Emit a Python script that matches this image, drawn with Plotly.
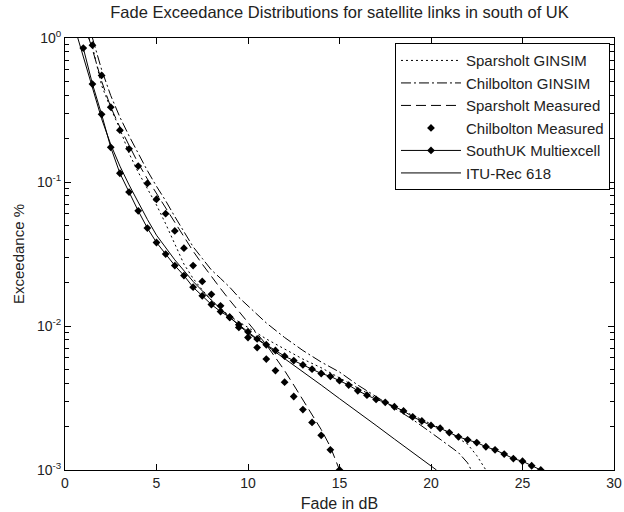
import plotly.graph_objects as go

# ---------------- data ----------------
sparsholt_ginsim_x = [1.3, 1.5, 2.0, 2.5, 3.0, 3.5, 4.0, 4.5, 5.0, 5.5, 6.0, 6.5, 7.0, 7.5, 8.0, 8.5, 9.0,
                      10.0, 11.0, 12.0, 13.0, 14.0, 15.0, 16.0, 17.0, 18.0, 19.0, 20.0, 21.0, 22.0, 22.5, 23.0]
sparsholt_ginsim_y = [1.0, 0.871, 0.468, 0.324, 0.234, 0.158, 0.117, 0.0891, 0.0692, 0.0513, 0.0372, 0.0269,
                      0.0214, 0.0178, 0.0151, 0.0132, 0.0117, 0.00977, 0.00813, 0.00692, 0.00589, 0.00513,
                      0.00437, 0.00372, 0.00316, 0.00275, 0.00240, 0.00209, 0.00182, 0.00151, 0.00126, 0.00100]

chilbolton_ginsim_x = [1.5, 2.0, 2.5, 3.0, 3.5, 4.0, 4.5, 5.0, 5.5, 6.0, 6.5, 7.0, 7.5, 8.0, 8.5, 9.0, 9.5,
                       10.0, 11.0, 12.0, 13.0, 14.0, 15.0, 16.0, 17.0, 18.0, 19.0, 20.0, 21.0, 21.5, 22.0, 22.2]
chilbolton_ginsim_y = [1.0, 0.603, 0.398, 0.282, 0.209, 0.158, 0.120, 0.0933, 0.0741, 0.0575, 0.0447, 0.0355,
                       0.0295, 0.0245, 0.0214, 0.0186, 0.0158, 0.0138, 0.0105, 0.00832, 0.00676, 0.00562,
                       0.00479, 0.00389, 0.00324, 0.00269, 0.00224, 0.00182, 0.00148, 0.00132, 0.00112, 0.00100]

sparsholt_meas_x = [1.3, 1.5, 2.0, 2.5, 3.0, 3.5, 4.0, 4.5, 5.0, 5.5, 6.0, 6.5, 7.0, 7.5, 8.0, 8.5, 9.0, 9.5,
                    10.0, 10.5, 11.0, 11.5, 12.0, 12.5, 13.0, 13.5, 14.0, 14.5, 15.0]
sparsholt_meas_y = [1.0, 0.832, 0.501, 0.331, 0.240, 0.178, 0.135, 0.105, 0.0832, 0.0661, 0.0525, 0.0417,
                    0.0331, 0.0269, 0.0219, 0.0182, 0.0151, 0.0126, 0.0107, 0.00891, 0.00741, 0.00603,
                    0.00490, 0.00389, 0.00309, 0.00245, 0.00191, 0.00145, 0.00100]

chilbolton_meas_x = [1.5, 2.0, 2.5, 3.0, 3.5, 4.0, 4.5, 5.0, 5.5, 6.0, 6.5, 7.0, 7.5, 8.0, 8.5, 9.0, 9.5,
                     10.0, 10.5, 11.0, 11.5, 12.0, 12.5, 13.0, 13.5, 14.0, 14.5, 15.0]
chilbolton_meas_y = [0.891, 0.550, 0.331, 0.229, 0.170, 0.129, 0.0977, 0.0759, 0.0603, 0.0457, 0.0347, 0.0263,
                     0.0204, 0.0166, 0.0138, 0.0115, 0.00977, 0.00832, 0.00708, 0.00589, 0.00490, 0.00407,
                     0.00324, 0.00263, 0.00214, 0.00174, 0.00138, 0.00100]

multiexcell_x = [1.0, 1.5, 2.0, 2.5, 3.0, 3.5, 4.0, 4.5, 5.0, 5.5, 6.0, 6.5, 7.0, 7.5, 8.0, 8.5, 9.0, 9.5,
                 10.0, 10.5, 11.0, 11.5, 12.0, 12.5, 13.0, 13.5, 14.0, 14.5, 15.0, 15.5, 16.0, 16.5, 17.0,
                 17.5, 18.0, 18.5, 19.0, 19.5, 20.0, 20.5, 21.0, 21.5, 22.0, 22.5, 23.0, 23.5, 24.0, 24.5,
                 25.0, 25.5, 26.0]
multiexcell_y = [0.851, 0.479, 0.295, 0.174, 0.115, 0.0851, 0.0631, 0.0479, 0.0380, 0.0316, 0.0263, 0.0224,
                 0.0186, 0.0162, 0.0141, 0.0126, 0.0115, 0.0102, 0.00912, 0.00813, 0.00741, 0.00676,
                 0.00617, 0.00575, 0.00537, 0.00501, 0.00468, 0.00447, 0.00417, 0.00389, 0.00355, 0.00331,
                 0.00309, 0.00295, 0.00275, 0.00257, 0.00234, 0.00219, 0.00204, 0.00195, 0.00182, 0.00170,
                 0.00162, 0.00155, 0.00145, 0.00138, 0.00129, 0.00120, 0.00115, 0.00107, 0.00100]

itu_x = [0.7, 1.0, 1.5, 2.0, 2.5, 3.0, 3.5, 4.0, 4.5, 5.0, 6.0, 7.0, 8.0, 9.0, 10.0, 11.0, 12.0, 13.0,
         14.0, 15.0, 16.0, 17.0, 18.0, 19.0, 20.0, 20.3]
itu_y = [1.0, 0.741, 0.437, 0.275, 0.182, 0.129, 0.0955, 0.0724, 0.0550, 0.0427, 0.0288, 0.0204, 0.0151,
         0.0115, 0.00891, 0.00733, 0.00596, 0.00479, 0.00389, 0.00313, 0.00251, 0.00204, 0.00164,
         0.00132, 0.00106, 0.00100]

x_ticks = [0, 5, 10, 15, 20, 25, 30]
y_ticks = [0.001, 0.01, 0.1, 1]
y_tick_labels = ["10<sup>-3</sup>", "10<sup>-2</sup>", "10<sup>-1</sup>", "10<sup>0</sup>"]

# ---------------- figure ----------------
FONT = "Liberation Sans, Arial, sans-serif"
fig = go.Figure()

fig.add_trace(go.Scatter(x=sparsholt_ginsim_x, y=sparsholt_ginsim_y, mode="lines",
                         name="Sparsholt GINSIM",
                         line=dict(color="black", width=1, dash="2px,3px")))
fig.add_trace(go.Scatter(x=chilbolton_ginsim_x, y=chilbolton_ginsim_y, mode="lines",
                         name="Chilbolton GINSIM",
                         line=dict(color="black", width=1, dash="10px,3px,2px,3px")))
fig.add_trace(go.Scatter(x=sparsholt_meas_x, y=sparsholt_meas_y, mode="lines",
                         name="Sparsholt Measured",
                         line=dict(color="black", width=1, dash="10px,5px")))
fig.add_trace(go.Scatter(x=chilbolton_meas_x, y=chilbolton_meas_y, mode="markers",
                         name="Chilbolton Measured",
                         marker=dict(symbol="diamond", size=6, color="black")))
fig.add_trace(go.Scatter(x=multiexcell_x, y=multiexcell_y, mode="lines+markers",
                         name="SouthUK Multiexcell",
                         line=dict(color="black", width=1),
                         marker=dict(symbol="diamond", size=6, color="black")))
fig.add_trace(go.Scatter(x=itu_x, y=itu_y, mode="lines",
                         name="ITU-Rec 618",
                         line=dict(color="black", width=1)))

axis_common = dict(showline=True, linecolor="black", linewidth=1, mirror="ticks",
                   ticks="inside", tickcolor="black", showgrid=False, zeroline=False,
                   automargin=False,
                   tickfont=dict(family=FONT, size=14, color="#222"))

fig.update_layout(
    template="simple_white",
    width=624, height=512,
    margin=dict(l=65, r=10, t=38, b=42, pad=0, autoexpand=False),
    paper_bgcolor="white", plot_bgcolor="white",
    font=dict(family=FONT, size=14, color="#222"),
    title=dict(text="Fade Exceedance Distributions for satellite links in south of UK",
               xref="paper", x=0.5, xanchor="center", y=0.9766, yanchor="middle",
               font=dict(family=FONT, size=16.5, color="#222")),
    xaxis=dict(range=[0, 30], tickvals=x_ticks, ticklen=6,
               title=dict(text="Fade in dB", standoff=15,
                          font=dict(family=FONT, size=16, color="#222")),
               **axis_common),
    yaxis=dict(type="log", range=[-3, 0], tickvals=y_ticks, ticktext=y_tick_labels, ticklen=6,
               minor=dict(ticks="inside", ticklen=4, tickcolor="black", dtick="D1", showgrid=False),
               title=dict(text="Exceedance %", standoff=8,
                          font=dict(family=FONT, size=15, color="#222")),
               **axis_common),
    legend=dict(x=0.9927, xanchor="right", y=0.988, yanchor="top",
                bgcolor="white", bordercolor="black", borderwidth=1,
                font=dict(family=FONT, size=15, color="#222"),
                itemwidth=60, tracegroupgap=0),
    showlegend=True,
)

# remove the browser's default 8px page margin so the 624x512 figure fills the window exactly
fig.write_html("out.html",
               config={"displayModeBar": False},
               post_script="document.body.style.margin='0';document.body.style.overflow='hidden';")
